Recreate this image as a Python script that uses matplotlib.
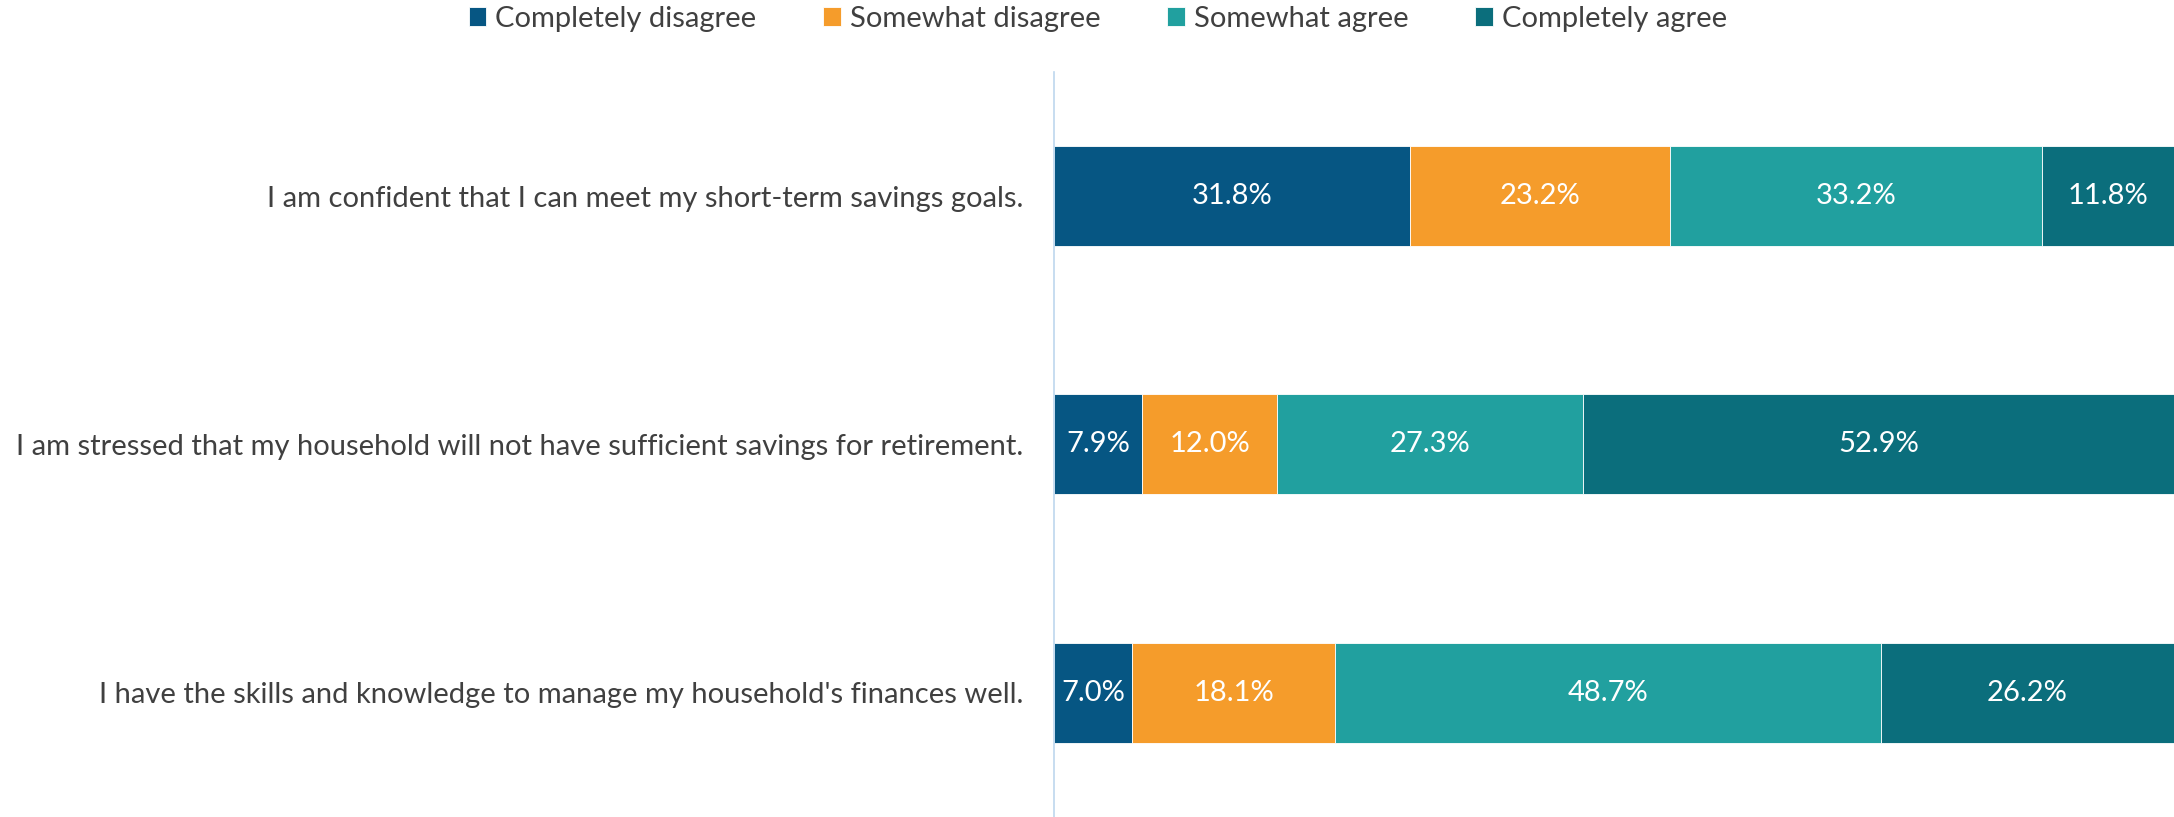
import matplotlib.pyplot as plt
import numpy as np

statements = [
    "I am confident that I can meet my short-term savings goals.",
    "I am stressed that my household will not have sufficient savings for retirement.",
    "I have the skills and knowledge to manage my household's finances well.",
]
series_names = ["Completely disagree", "Somewhat disagree", "Somewhat agree", "Completely agree"]
completely_disagree = [31.8, 7.9, 7.0]
somewhat_disagree = [23.2, 12.0, 18.1]
somewhat_agree = [33.2, 27.3, 48.7]
completely_agree = [11.8, 52.9, 26.2]

colors = ["#065683", "#F59C2B", "#21A09F", "#0B6E7C"]

plt.rcParams['font.family'] = ['Lato', 'DejaVu Sans']

fig = plt.figure(figsize=(21.74, 8.17), dpi=100)
ax = fig.add_axes([0.4848, 0.0, 0.5152, 0.912])

y = np.arange(len(statements))
left = np.zeros(len(statements))
for name, vals, col in zip(series_names,
                           [completely_disagree, somewhat_disagree, somewhat_agree, completely_agree],
                           colors):
    vals = np.array(vals)
    ax.barh(y, vals, left=left, height=0.403, color=col, label=name,
            edgecolor="white", linewidth=0.6)
    for yi, l, v in zip(y, left, vals):
        ax.text(l + v / 2, yi, f"{v:.1f}%", ha="center", va="center",
                color="white", fontsize=21)
    left += vals

ax.set_xlim(0, 100)
ax.set_ylim(2.5, -0.5)
ax.set_yticks(y)
ax.set_yticklabels(statements, fontsize=21, color="#404040")
ax.tick_params(axis="y", length=0, pad=22)
ax.set_xticks([])
for s in ["top", "right", "bottom"]:
    ax.spines[s].set_visible(False)
ax.spines["left"].set_color("#BDD7EE")
ax.spines["left"].set_linewidth(1.2)

handles, labels = ax.get_legend_handles_labels()
fig.legend(handles, labels, loc="upper center", bbox_to_anchor=(0.505, 1.025), ncol=4,
           frameon=False, fontsize=21, handlelength=0.6, handleheight=0.6,
           handletextpad=0.3, columnspacing=2.3, labelcolor="#404040")

fig.savefig("out.png", dpi=100)
